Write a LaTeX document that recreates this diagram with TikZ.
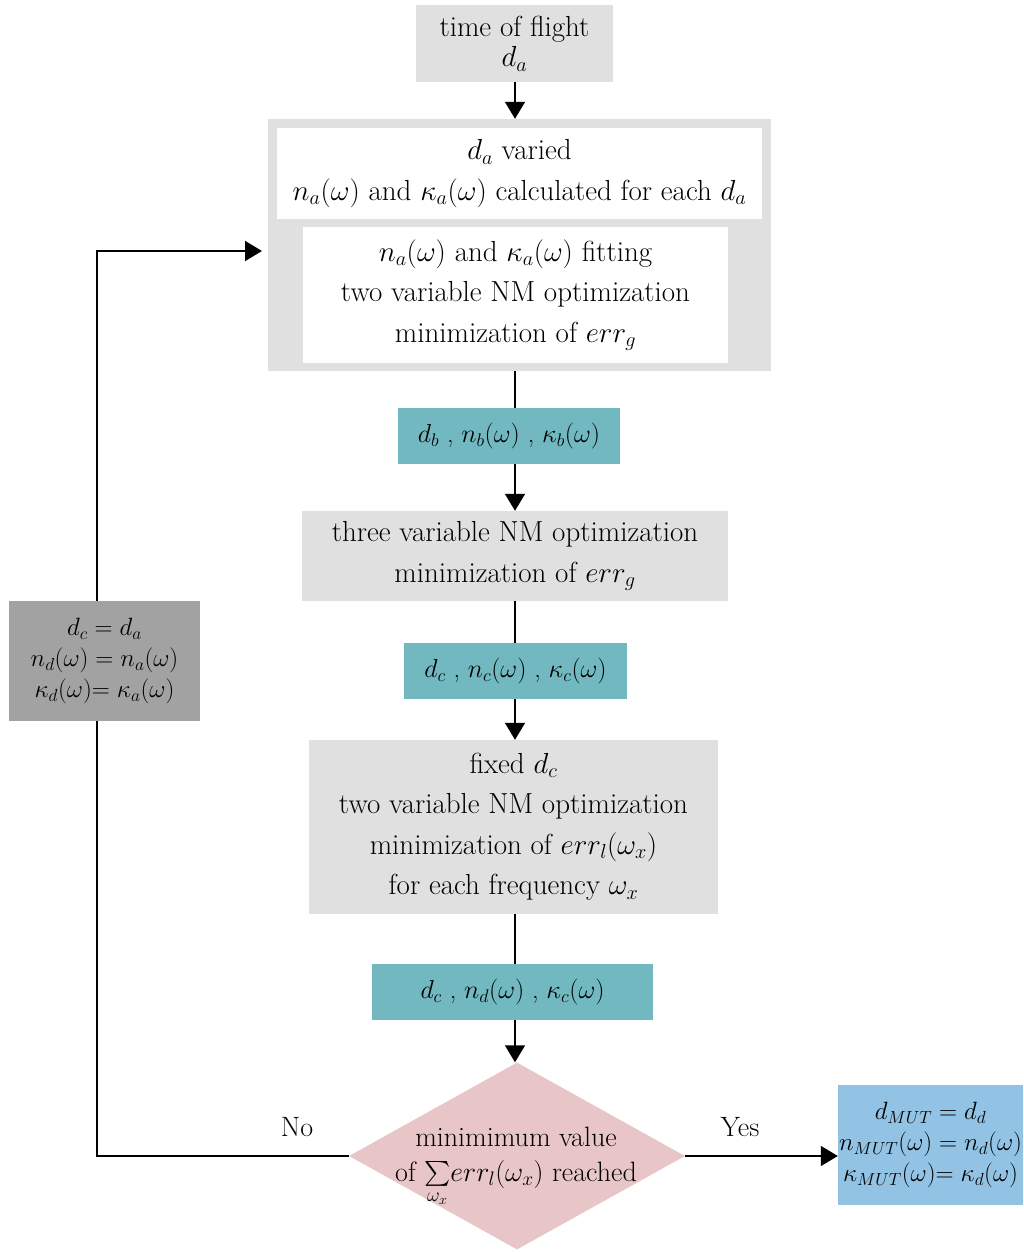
\RequirePackage{fix-cm}
\documentclass[tikz,border=0pt]{standalone}
\usepackage{exscale}
\usetikzlibrary{arrows.meta,shapes.geometric}
\definecolor{boxgrey}{HTML}{E0E0E0}
\definecolor{darkgrey}{HTML}{A2A2A2}
\definecolor{tealfill}{HTML}{71B8C0}
\definecolor{pinkfill}{HTML}{E8C6C8}
\definecolor{bluefill}{HTML}{92C3E4}
\begin{document}
\begin{tikzpicture}[x=1pt,y=-1pt,
  every node/.style={inner sep=0pt, align=center, font=\fontsize{29}{40.5}\selectfont},
  greybox/.style={fill=boxgrey},
  whitebox/.style={fill=white},
  tealbox/.style={fill=tealfill, font=\fontsize{26}{30}\selectfont},
  mathbox/.style={font=\fontsize{25}{31}\selectfont},
  decision/.style={diamond, fill=pinkfill},
  flow/.style={line width=1.6pt},
  arr/.style={flow, -{Triangle[length=17pt,width=20pt]}},
  lbl/.style={font=\fontsize{28}{30}\selectfont}]
\useasboundingbox (0,0) rectangle (1023,1252);
\coordinate (axis) at (515,0);
\coordinate (loopx) at (97,0);
\coordinate (entry) at (262,251);

% main column
\node[greybox, minimum width=197, minimum height=77] (tof) at (514.5,43.5)
  {time of flight\\[-10pt] $d_a$};
\node[greybox, minimum width=503, minimum height=252] (outer) at (519.5,245) {};
\node[whitebox, minimum width=485, minimum height=91] (varied) at (519.5,173.5)
  {$d_a$ varied\\ $n_a(\omega)$ and $\kappa_a(\omega)$ calculated for each $d_a$};
\node[whitebox, minimum width=425, minimum height=136] (fitting) at (515.5,295)
  {$n_a(\omega)$ and $\kappa_a(\omega)$ fitting\\ two variable NM optimization\\ minimization of $err_g$};
\node[tealbox, minimum width=222, minimum height=56] (tb) at (509,436)
  {$d_b$ , $n_b(\omega)$ , $\kappa_b(\omega)$};
\node[greybox, minimum width=426, minimum height=90] (three) at (515,556)
  {three variable NM optimization\\ minimization of $err_g$};
\node[tealbox, minimum width=223, minimum height=56] (tc) at (515.5,671)
  {$d_c$ , $n_c(\omega)$ , $\kappa_c(\omega)$};
\node[greybox, minimum width=409, minimum height=174] (fixed) at (513.5,827)
  {fixed $d_c$\\ two variable NM optimization\\ minimization of $err_l(\omega_x)$\\ for each frequency $\omega_x$};
\node[tealbox, minimum width=281, minimum height=56] (td) at (512.5,992)
  {$d_c$ , $n_d(\omega)$ , $\kappa_c(\omega)$};
\node[decision, minimum width=336, minimum height=187] (dec) at (517,1156) {};
\node[font=\fontsize{28}{34}\selectfont] (dectext) at (516,1167)
  {minimimum value\\[1pt] of $\sum\limits_{\omega_x}\! err_l(\omega_x)$ reached};
\node[fill=bluefill, mathbox, minimum width=185, minimum height=120] (result) at (930.5,1145)
  {$d_{MUT} = d_d$\\ $n_{MUT}(\omega) = n_d(\omega)$\\ $\kappa_{MUT}(\omega){=}\;\kappa_d(\omega)$};

% connectors
\draw[arr] (tof.south -| axis) -- (outer.north -| axis);
\draw[flow] (outer.south -| axis) -- (tb.north -| axis);
\draw[arr] (tb.south -| axis) -- (three.north -| axis);
\draw[flow] (three.south -| axis) -- (tc.north -| axis);
\draw[arr] (tc.south -| axis) -- (fixed.north -| axis);
\draw[flow] (fixed.south -| axis) -- (td.north -| axis);
\draw[arr] (td.south -| axis) -- (dec.north -| axis);
\draw[arr] (dec.east) -- (dec.east -| result.west);
\draw[arr] (dec.west) -| (loopx |- entry) -- (entry);

% reset box on the loop-back line
\node[fill=darkgrey, mathbox, minimum width=191, minimum height=120] (reset) at (104.5,661)
  {$d_c = d_a$\\ $n_d(\omega) = n_a(\omega)$\\ $\kappa_d(\omega){=}\;\kappa_a(\omega)$};

% branch labels
\node[lbl] (yes) at (740,1127) {Yes};
\node[lbl] (no) at (297,1127) {No};
\end{tikzpicture}
\end{document}
